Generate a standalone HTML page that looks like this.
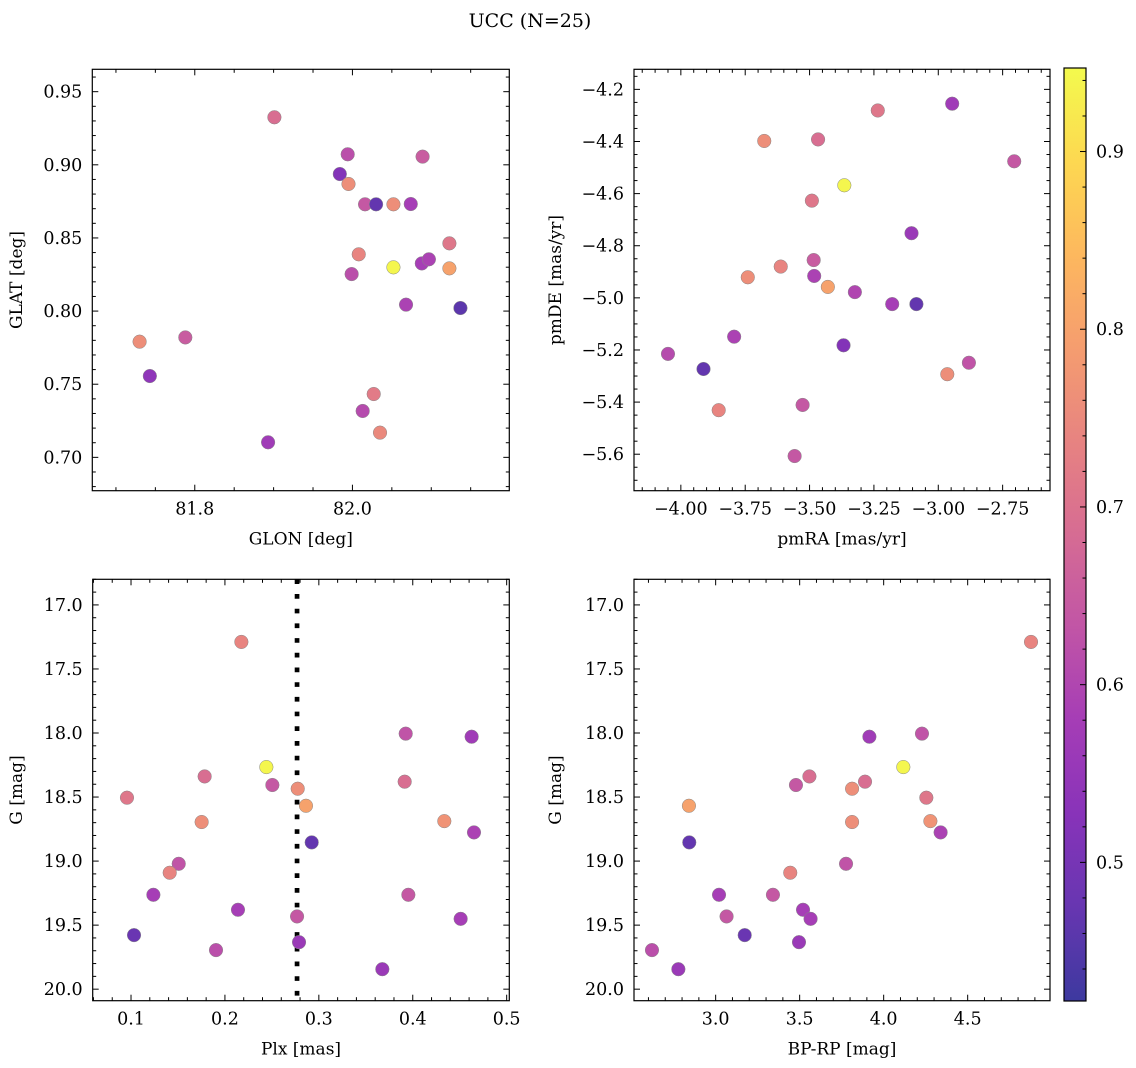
<!DOCTYPE html>
<html><head><meta charset="utf-8"><style>
html,body{margin:0;padding:0;background:#fff}
svg{display:block;font-family:"DejaVu Serif","Liberation Serif",serif}
</style></head><body>
<svg id="fig" width="1136" height="1068" viewBox="0 0 1136 1068" xmlns="http://www.w3.org/2000/svg">
<text x="530" y="27" font-size="19" text-anchor="middle">UCC (N=25)</text>
</svg>
<script>
// Panel 1: GLON vs GLAT
const glon1 = [81.901,81.994,82.089,81.984,81.995,82.016,82.030,82.052,82.074,82.123,82.008,82.052,82.088,82.097,82.123,81.999,82.068,82.137,81.730,81.788,81.743,82.027,82.013,82.035,81.893];
const glat1 = [0.9325,0.9072,0.9056,0.8937,0.8869,0.8730,0.8730,0.8730,0.8732,0.8463,0.8388,0.8299,0.8326,0.8354,0.8292,0.8253,0.8044,0.8021,0.7791,0.7820,0.7556,0.7433,0.7317,0.7169,0.7103];
const prob1 = [0.69,0.62,0.65,0.52,0.76,0.64,0.47,0.76,0.58,0.71,0.74,0.94,0.58,0.59,0.80,0.62,0.59,0.46,0.76,0.65,0.54,0.72,0.61,0.75,0.57];
// Panel 2: pmRA vs pmDE
const pmra2 = [-2.946,-3.235,-3.676,-3.467,-2.705,-3.365,-3.491,-3.104,-3.484,-3.612,-3.740,-3.482,-3.429,-3.324,-3.179,-3.085,-3.793,-3.368,-4.050,-3.912,-2.881,-2.965,-3.853,-3.527,-3.558];
const pmde2 = [-4.255,-4.281,-4.398,-4.392,-4.476,-4.568,-4.627,-4.752,-4.855,-4.880,-4.921,-4.916,-4.958,-4.978,-5.024,-5.024,-5.149,-5.182,-5.215,-5.273,-5.249,-5.293,-5.431,-5.411,-5.607];
const prob2 = [0.57,0.71,0.76,0.69,0.64,0.94,0.71,0.56,0.65,0.74,0.76,0.59,0.80,0.60,0.58,0.47,0.59,0.52,0.61,0.47,0.63,0.76,0.74,0.64,0.64];
// Panels 3 & 4: shared stars
const gmag = [17.289,18.005,18.029,18.266,18.339,18.406,18.380,18.435,18.505,18.568,18.695,18.688,18.776,18.854,19.021,19.091,19.263,19.263,19.380,19.432,19.451,19.578,19.633,19.695,19.844];
const plx3 = [0.2175,0.3925,0.4627,0.2441,0.1784,0.2505,0.3914,0.2775,0.0957,0.2863,0.1752,0.4336,0.4652,0.2924,0.1508,0.1412,0.1238,0.3953,0.2139,0.2768,0.4510,0.1032,0.2789,0.1905,0.3676];
const bprp4 = [4.877,4.228,3.915,4.117,3.558,3.478,3.889,3.812,4.254,2.841,3.812,4.278,4.339,2.843,3.776,3.444,3.020,3.341,3.520,3.065,3.565,3.173,3.496,2.621,2.778];
const prob34 = [0.74,0.63,0.57,0.94,0.69,0.64,0.69,0.76,0.71,0.80,0.76,0.77,0.59,0.47,0.63,0.74,0.58,0.64,0.58,0.64,0.58,0.48,0.56,0.62,0.56];
const plxLine = [0.2768];
const cbarTicks = [0.5,0.6,0.7,0.8,0.9];

const NS="http://www.w3.org/2000/svg";
const svg=document.getElementById('fig');
function mk(tag,attrs,parent){const e=document.createElementNS(NS,tag);for(const k in attrs)e.setAttribute(k,attrs[k]);(parent||svg).appendChild(e);return e;}
const VMIN=0.422,VMAX=0.947;
const stops=[[13,8,135],[65,4,157],[106,0,168],[143,13,164],[177,42,144],[204,71,120],[225,100,98],[242,132,75],[252,166,54],[252,206,37],[240,249,33]];
function plasma(t){t=Math.max(0,Math.min(1,t));const p=t*10,i=Math.min(9,Math.floor(p)),f=p-i;const a=stops[i],b=stops[i+1];
 const c=a.map((v,k)=>Math.round((v+(b[k]-v)*f)*0.8+255*0.2));return `rgb(${c[0]},${c[1]},${c[2]})`;}
function fmt(v,d){const s=Math.abs(v).toFixed(d);return (v<-1e-9?'\u2212':'')+s;}
const TF=17.5;

function panel(o){
 const g=mk('g',{});
 
 
 const sx=v=>o.L+(v-o.xd[0])/(o.xd[1]-o.xd[0])*(o.R-o.L);
 const sy=v=>o.B-(v-o.yd[0])/(o.yd[1]-o.yd[0])*(o.B-o.T);
 function ticks(d,step,minor,dec,axis){
  const lo=Math.min(d[0],d[1]),hi=Math.max(d[0],d[1]);
  for(let v=Math.ceil(lo/minor-1e-6)*minor;v<=hi+1e-9;v+=minor){
   const isMaj=Math.abs(v/step-Math.round(v/step))<1e-4;const len=isMaj?6:3.5;
   if(axis==='x'){const x=sx(v);
    mk('line',{x1:x,x2:x,y1:o.B,y2:o.B-len,stroke:'#000','stroke-width':1},g);
    mk('line',{x1:x,x2:x,y1:o.T,y2:o.T+len,stroke:'#000','stroke-width':1},g);
    if(isMaj){const t=mk('text',{x:x,y:o.B+24,'font-size':TF,'text-anchor':'middle'},g);t.textContent=fmt(v,dec);
     
     }
   }else{const y=sy(v);
    mk('line',{x1:o.L,x2:o.L+len,y1:y,y2:y,stroke:'#000','stroke-width':1},g);
    mk('line',{x1:o.R,x2:o.R-len,y1:y,y2:y,stroke:'#000','stroke-width':1},g);
    if(isMaj){const t=mk('text',{x:o.L-10,y:y+6,'font-size':TF,'text-anchor':'end'},g);t.textContent=fmt(v,dec);
     
     }
   }
  }
 }
 ticks(o.xd,o.xs[0],o.xs[1],o.xs[2],'x');
 ticks(o.yd,o.ys[0],o.ys[1],o.ys[2],'y');
 if(o.vline){o.vline.forEach(v=>{const l=mk('line',{x1:sx(v),x2:sx(v),y1:o.T,y2:o.B,stroke:'#000','stroke-width':4.7,'stroke-dasharray':'4.7 10'},g);
  
  });}
 for(let i=0;i<o.x.length;i++){
  const c=mk('circle',{cx:sx(o.x[i]),cy:sy(o.y[i]),r:6.8,fill:plasma((o.c[i]-VMIN)/(VMAX-VMIN)),stroke:'#888','stroke-width':0.5},g);
  
  
 }
 const fr=mk('rect',{x:o.L,y:o.T,width:o.R-o.L,height:o.B-o.T,fill:'none',stroke:'#000','stroke-width':1.2},g);
 
 
 const xl=mk('text',{x:(o.L+o.R)/2,y:o.B+54,'font-size':17,'text-anchor':'middle'},g);xl.textContent=o.xl;
 
 
 const yx=o.ylx,yy=(o.T+o.B)/2;
 const yl=mk('text',{x:yx,y:yy,'font-size':17,'text-anchor':'middle',transform:`rotate(-90 ${yx} ${yy})`},g);yl.textContent=o.yl;
 
 
}
panel({name:'glon-glat-panel',L:92.3,R:509.3,T:69.3,B:490.7,xd:[81.670,82.199],yd:[0.6772,0.9653],xs:[0.2,0.05,1],ys:[0.05,0.01,2],x:glon1,y:glat1,c:prob1,xl:'GLON [deg]',yl:'GLAT [deg]',ylx:22});
panel({name:'pm-panel',L:634,R:1050,T:69.3,B:490.7,xd:[-4.182,-2.566],yd:[-5.740,-4.123],xs:[0.25,0.05,2],ys:[0.2,0.05,1],x:pmra2,y:pmde2,c:prob2,xl:'pmRA [mas/yr]',yl:'pmDE [mas/yr]',ylx:561});
panel({name:'plx-g-panel',L:92.7,R:509.3,T:579.3,B:1000.7,xd:[0.0592,0.5028],yd:[20.09,16.80],xs:[0.1,0.02,1],ys:[0.5,0.1,1],x:plx3,y:gmag,c:prob34,xl:'Plx [mas]',yl:'G [mag]',ylx:22,vline:plxLine});
panel({name:'cmd-panel',L:634,R:1050,T:579.3,B:1000.7,xd:[2.514,4.990],yd:[20.09,16.80],xs:[0.5,0.1,1],ys:[0.5,0.1,1],x:bprp4,y:gmag,c:prob34,xl:'BP-RP [mag]',yl:'G [mag]',ylx:561});

// colorbar
const cb=mk('g',{});


const CT=68,CB=1001,CL=1064,CR=1086;
const defs=mk('defs',{},cb);const lg=mk('linearGradient',{id:'cg',x1:0,y1:1,x2:0,y2:0},defs);
for(let i=0;i<=20;i++){mk('stop',{offset:i/20,'stop-color':plasma(i/20)},lg);}
mk('rect',{x:CL,y:CT,width:CR-CL,height:CB-CT,fill:'url(#cg)',stroke:'#000','stroke-width':1.2},cb);
const cy=v=>CB-(v-VMIN)/(VMAX-VMIN)*(CB-CT);
for(let v=0.44;v<=VMAX;v+=0.02){const y=cy(v);const maj=Math.abs(v*10-Math.round(v*10))<1e-4;
 mk('line',{x1:CR,x2:CR-(maj?6:3.5),y1:y,y2:y,stroke:'#000','stroke-width':1},cb);}
cbarTicks.forEach(v=>{const t=mk('text',{x:CR+10,y:cy(v)+6,'font-size':TF},cb);t.textContent=v.toFixed(1);
 
 });
</script>
</body></html>
